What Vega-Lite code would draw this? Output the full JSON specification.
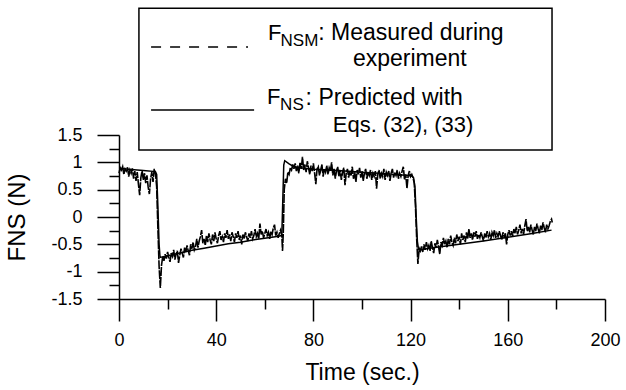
{
  "$schema": "https://vega.github.io/schema/vega-lite/v6.json",
  "width": 486,
  "height": 164,
  "autosize": "none",
  "padding": {"left": 119, "top": 135, "right": 21, "bottom": 91},
  "background": "white",
  "config": {
    "view": {"stroke": null},
    "font": "Liberation Sans",
    "axis": {
      "domainColor": "#000",
      "domainWidth": 1.5,
      "tickColor": "#000",
      "tickWidth": 1.5,
      "labelColor": "#000",
      "titleColor": "#000",
      "labelFont": "Liberation Sans",
      "titleFont": "Liberation Sans",
      "grid": false,
      "labelFlush": false,
      "labelOverlap": false
    }
  },
  "resolve": {"axis": {"x": "independent", "y": "independent"}},
  "datasets": {
    "measured": [
      {"t":0,"v":0.80},{"t":0.5,"v":0.90},{"t":1,"v":0.86},{"t":1.5,"v":0.92},{"t":2,"v":0.78},{"t":2.5,"v":0.88},{"t":3,"v":0.84},{"t":3.5,"v":0.91},{"t":4,"v":0.74},{"t":4.5,"v":0.86},
      {"t":5,"v":0.80},{"t":5.5,"v":0.89},{"t":6,"v":0.70},{"t":6.5,"v":0.84},{"t":7,"v":0.66},{"t":7.5,"v":0.82},{"t":8,"v":0.60},{"t":8.5,"v":0.40},{"t":9,"v":0.72},{"t":9.5,"v":0.85},
      {"t":10,"v":0.68},{"t":10.5,"v":0.80},{"t":11,"v":0.62},{"t":11.5,"v":0.76},{"t":12,"v":0.55},{"t":12.5,"v":0.42},{"t":13,"v":0.70},{"t":13.5,"v":0.82},{"t":14,"v":0.64},{"t":14.5,"v":0.88},
      {"t":15,"v":0.80},{"t":15.5,"v":0.55},{"t":16,"v":-0.20},{"t":16.5,"v":-0.90},{"t":17,"v":-1.30},{"t":17.5,"v":-0.88},
      {"t":18,"v":-0.72},{"t":18.5,"v":-0.80},{"t":19,"v":-0.68},{"t":19.5,"v":-0.76},{"t":20,"v":-0.64},{"t":20.5,"v":-0.74},{"t":21,"v":-0.82},{"t":21.5,"v":-0.66},{"t":22,"v":-0.72},{"t":22.5,"v":-0.60},
      {"t":23,"v":-0.78},{"t":23.5,"v":-0.68},{"t":24,"v":-0.62},{"t":24.5,"v":-0.84},{"t":25,"v":-0.70},{"t":25.5,"v":-0.58},{"t":26,"v":-0.66},{"t":26.5,"v":-0.74},{"t":27,"v":-0.56},{"t":27.5,"v":-0.64},
      {"t":28,"v":-0.52},{"t":28.5,"v":-0.62},{"t":29,"v":-0.70},{"t":29.5,"v":-0.50},{"t":30,"v":-0.58},{"t":30.5,"v":-0.46},{"t":31,"v":-0.60},{"t":31.5,"v":-0.54},{"t":32,"v":-0.40},{"t":32.5,"v":-0.56},
      {"t":33,"v":-0.44},{"t":33.5,"v":-0.36},{"t":34,"v":-0.24},{"t":34.5,"v":-0.48},{"t":35,"v":-0.40},{"t":35.5,"v":-0.52},{"t":36,"v":-0.34},{"t":36.5,"v":-0.46},{"t":37,"v":-0.30},{"t":37.5,"v":-0.42},
      {"t":38,"v":-0.50},{"t":38.5,"v":-0.32},{"t":39,"v":-0.44},{"t":39.5,"v":-0.28},{"t":40,"v":-0.40},{"t":40.5,"v":-0.48},{"t":41,"v":-0.34},{"t":41.5,"v":-0.26},{"t":42,"v":-0.42},{"t":42.5,"v":-0.36},
      {"t":43,"v":-0.46},{"t":43.5,"v":-0.30},{"t":44,"v":-0.38},{"t":44.5,"v":-0.24},{"t":45,"v":-0.40},{"t":45.5,"v":-0.32},{"t":46,"v":-0.44},{"t":46.5,"v":-0.28},{"t":47,"v":-0.36},{"t":47.5,"v":-0.46},
      {"t":48,"v":-0.30},{"t":48.5,"v":-0.38},{"t":49,"v":-0.26},{"t":49.5,"v":-0.42},{"t":50,"v":-0.34},{"t":50.5,"v":-0.50},{"t":51,"v":-0.32},{"t":51.5,"v":-0.40},{"t":52,"v":-0.28},{"t":52.5,"v":-0.36},
      {"t":53,"v":-0.44},{"t":53.5,"v":-0.30},{"t":54,"v":-0.38},{"t":54.5,"v":-0.26},{"t":55,"v":-0.40},{"t":55.5,"v":-0.34},{"t":56,"v":-0.22},{"t":56.5,"v":-0.36},{"t":57,"v":-0.30},{"t":57.5,"v":-0.40},
      {"t":58,"v":-0.12},{"t":58.5,"v":-0.32},{"t":59,"v":-0.26},{"t":59.5,"v":-0.38},{"t":60,"v":-0.30},{"t":60.5,"v":-0.22},{"t":61,"v":-0.34},{"t":61.5,"v":-0.28},{"t":62,"v":-0.40},{"t":62.5,"v":-0.26},
      {"t":63,"v":-0.32},{"t":63.5,"v":-0.20},{"t":64,"v":-0.14},{"t":64.5,"v":-0.34},{"t":65,"v":-0.28},{"t":65.5,"v":-0.38},{"t":66,"v":-0.30},{"t":66.5,"v":-0.24},{"t":67,"v":-0.34},{"t":67.3,"v":-0.62},
      {"t":67.6,"v":-0.30},{"t":68,"v":0.50},{"t":68.5,"v":0.70},{"t":69,"v":0.62},{"t":69.5,"v":0.82},{"t":70,"v":0.78},{"t":70.5,"v":0.90},{"t":71,"v":0.86},{"t":71.5,"v":0.96},{"t":72,"v":0.88},
      {"t":72.5,"v":0.98},{"t":73,"v":0.84},{"t":73.5,"v":0.94},{"t":74,"v":0.80},{"t":74.5,"v":1.00},{"t":75,"v":0.88},{"t":75.5,"v":1.10},{"t":76,"v":0.86},{"t":76.5,"v":0.96},{"t":77,"v":0.82},
      {"t":77.5,"v":1.02},{"t":78,"v":0.90},{"t":78.5,"v":0.78},{"t":79,"v":0.94},{"t":79.5,"v":0.84},{"t":80,"v":0.98},{"t":80.5,"v":0.80},{"t":81,"v":0.60},{"t":81.5,"v":0.88},{"t":82,"v":0.92},
      {"t":82.5,"v":0.76},{"t":83,"v":0.86},{"t":83.5,"v":0.96},{"t":84,"v":0.74},{"t":84.5,"v":0.88},{"t":85,"v":0.82},{"t":85.5,"v":0.94},{"t":86,"v":0.78},{"t":86.5,"v":0.90},{"t":87,"v":0.84},
      {"t":87.5,"v":1.00},{"t":88,"v":0.76},{"t":88.5,"v":0.88},{"t":89,"v":0.70},{"t":89.5,"v":0.84},{"t":90,"v":0.92},{"t":90.5,"v":0.74},{"t":91,"v":0.86},{"t":91.5,"v":0.68},{"t":92,"v":0.82},
      {"t":92.5,"v":0.90},{"t":93,"v":0.58},{"t":93.5,"v":0.80},{"t":94,"v":0.88},{"t":94.5,"v":0.72},{"t":95,"v":0.84},{"t":95.5,"v":0.76},{"t":96,"v":0.92},{"t":96.5,"v":0.70},{"t":97,"v":0.82},
      {"t":97.5,"v":0.64},{"t":98,"v":0.86},{"t":98.5,"v":0.78},{"t":99,"v":0.90},{"t":99.5,"v":0.72},{"t":100,"v":0.84},{"t":100.5,"v":0.66},{"t":101,"v":0.80},{"t":101.5,"v":0.88},{"t":102,"v":0.70},
      {"t":102.5,"v":0.82},{"t":103,"v":0.76},{"t":103.5,"v":0.86},{"t":104,"v":0.68},{"t":104.5,"v":0.80},{"t":105,"v":0.74},{"t":105.5,"v":0.84},{"t":106,"v":0.52},{"t":106.5,"v":0.78},{"t":107,"v":0.86},
      {"t":107.5,"v":0.70},{"t":108,"v":0.80},{"t":108.5,"v":0.74},{"t":109,"v":0.88},{"t":109.5,"v":0.68},{"t":110,"v":0.82},{"t":110.5,"v":0.76},{"t":111,"v":0.84},{"t":111.5,"v":0.66},{"t":112,"v":0.80},
      {"t":112.5,"v":0.88},{"t":113,"v":0.72},{"t":113.5,"v":0.82},{"t":114,"v":0.76},{"t":114.5,"v":0.86},{"t":115,"v":0.70},{"t":115.5,"v":0.80},{"t":116,"v":0.74},{"t":116.5,"v":0.84},{"t":117,"v":0.92},
      {"t":117.5,"v":0.68},{"t":118,"v":0.78},{"t":118.5,"v":0.52},{"t":119,"v":0.76},{"t":119.5,"v":0.84},{"t":120,"v":0.74},{"t":120.5,"v":0.78},{"t":121,"v":0.72},{"t":121.5,"v":0.62},{"t":122,"v":0.20},
      {"t":122.5,"v":-0.40},{"t":123,"v":-0.86},{"t":123.3,"v":-0.70},{"t":123.6,"v":-0.58},{"t":124,"v":-0.62},{"t":124.5,"v":-0.54},{"t":125,"v":-0.64},{"t":125.5,"v":-0.50},{"t":126,"v":-0.60},{"t":126.5,"v":-0.46},
      {"t":127,"v":-0.58},{"t":127.5,"v":-0.52},{"t":128,"v":-0.62},{"t":128.5,"v":-0.44},{"t":129,"v":-0.56},{"t":129.5,"v":-0.66},{"t":130,"v":-0.48},{"t":130.5,"v":-0.56},{"t":131,"v":-0.42},{"t":131.5,"v":-0.54},
      {"t":132,"v":-0.68},{"t":132.5,"v":-0.46},{"t":133,"v":-0.52},{"t":133.5,"v":-0.38},{"t":134,"v":-0.50},{"t":134.5,"v":-0.44},{"t":135,"v":-0.56},{"t":135.5,"v":-0.40},{"t":136,"v":-0.50},{"t":136.5,"v":-0.34},
      {"t":137,"v":-0.46},{"t":137.5,"v":-0.52},{"t":138,"v":-0.38},{"t":138.5,"v":-0.48},{"t":139,"v":-0.32},{"t":139.5,"v":-0.44},{"t":140,"v":-0.36},{"t":140.5,"v":-0.50},{"t":141,"v":-0.30},{"t":141.5,"v":-0.42},
      {"t":142,"v":-0.34},{"t":142.5,"v":-0.46},{"t":143,"v":-0.28},{"t":143.5,"v":-0.40},{"t":144,"v":-0.22},{"t":144.5,"v":-0.38},{"t":145,"v":-0.30},{"t":145.5,"v":-0.42},{"t":146,"v":-0.28},{"t":146.5,"v":-0.36},
      {"t":147,"v":-0.26},{"t":147.5,"v":-0.40},{"t":148,"v":-0.32},{"t":148.5,"v":-0.38},{"t":149,"v":-0.28},{"t":149.5,"v":-0.36},{"t":150,"v":-0.44},{"t":150.5,"v":-0.30},{"t":151,"v":-0.38},{"t":151.5,"v":-0.26},
      {"t":152,"v":-0.36},{"t":152.5,"v":-0.30},{"t":153,"v":-0.42},{"t":153.5,"v":-0.28},{"t":154,"v":-0.34},{"t":154.5,"v":-0.24},{"t":155,"v":-0.38},{"t":155.5,"v":-0.30},{"t":156,"v":-0.36},{"t":156.5,"v":-0.26},
      {"t":157,"v":-0.34},{"t":157.5,"v":-0.42},{"t":158,"v":-0.28},{"t":158.5,"v":-0.36},{"t":159,"v":-0.30},{"t":159.5,"v":-0.50},{"t":160,"v":-0.32},{"t":160.5,"v":-0.24},{"t":161,"v":-0.34},{"t":161.5,"v":-0.26},
      {"t":162,"v":-0.36},{"t":162.5,"v":-0.22},{"t":163,"v":-0.30},{"t":163.5,"v":-0.18},{"t":164,"v":-0.32},{"t":164.5,"v":-0.24},{"t":165,"v":-0.14},{"t":165.5,"v":-0.30},{"t":166,"v":-0.22},{"t":166.5,"v":-0.32},
      {"t":167,"v":-0.16},{"t":167.5,"v":-0.04},{"t":168,"v":-0.26},{"t":168.5,"v":-0.18},{"t":169,"v":-0.28},{"t":169.5,"v":-0.14},{"t":170,"v":-0.24},{"t":170.5,"v":-0.32},{"t":171,"v":-0.18},{"t":171.5,"v":-0.26},
      {"t":172,"v":-0.12},{"t":172.5,"v":-0.22},{"t":173,"v":-0.30},{"t":173.5,"v":-0.16},{"t":174,"v":-0.24},{"t":174.5,"v":-0.10},{"t":175,"v":-0.20},{"t":175.5,"v":-0.28},{"t":176,"v":-0.14},{"t":176.5,"v":-0.22},
      {"t":177,"v":-0.16},{"t":177.5,"v":-0.08},{"t":178,"v":-0.04},{"t":178.3,"v":-0.10}
    ],
    "predicted": [
      {"t":0,"v":0.89},{"t":5,"v":0.87},{"t":10,"v":0.85},{"t":15,"v":0.83},{"t":15.5,"v":0.78},{"t":16,"v":0.2},{"t":16.5,"v":-0.5},{"t":16.9,"v":-0.74},
      {"t":20,"v":-0.71},{"t":25,"v":-0.66},{"t":30,"v":-0.61},{"t":35,"v":-0.57},{"t":40,"v":-0.53},{"t":45,"v":-0.49},{"t":50,"v":-0.46},{"t":55,"v":-0.42},{"t":60,"v":-0.39},{"t":65,"v":-0.355},{"t":67,"v":-0.34},
      {"t":67.4,"v":0.3},{"t":67.8,"v":0.95},{"t":68.2,"v":1.03},{"t":70,"v":0.97},{"t":72,"v":0.92},{"t":76,"v":0.89},{"t":80,"v":0.875},{"t":90,"v":0.85},{"t":100,"v":0.82},{"t":110,"v":0.79},{"t":119,"v":0.76},
      {"t":120.5,"v":0.75},{"t":121.2,"v":0.72},{"t":121.8,"v":0.55},{"t":122.3,"v":0.0},{"t":122.8,"v":-0.45},{"t":123.3,"v":-0.60},{"t":124,"v":-0.60},{"t":130,"v":-0.56},{"t":140,"v":-0.50},{"t":150,"v":-0.44},
      {"t":160,"v":-0.37},{"t":170,"v":-0.30},{"t":178,"v":-0.24}
    ]
  },
  "layer": [
    {
      "data": {"name": "measured"},
      "mark": {"type": "line", "color": "#000", "strokeWidth": 1.6, "strokeDash": [9, 1], "clip": false},
      "encoding": {
        "x": {
          "field": "t", "type": "quantitative",
          "scale": {"domain": [0, 200], "nice": false, "zero": false},
          "axis": {
            "orient": "bottom",
            "values": [0, 40, 80, 120, 160, 200],
            "labelOverlap": false,
            "tickSize": 22,
            "labelFontSize": 18,
            "labelPadding": 10,
            "title": "Time (sec.)",
            "titleFontSize": 23,
            "titleFontWeight": "normal",
            "titlePadding": 12
          }
        },
        "y": {
          "field": "v", "type": "quantitative",
          "scale": {"domain": [-1.5, 1.5], "nice": false, "zero": false},
          "axis": {
            "orient": "left",
            "values": [-1.5, -1, -0.5, 0, 0.5, 1, 1.5],
            "labelExpr": "'' + datum.value",
            "labelOverlap": false,
            "tickSize": 22,
            "labelFontSize": 18,
            "labelPadding": 15,
            "title": "FNS (N)",
            "titleFontSize": 24,
            "titleFontWeight": "normal",
            "titlePadding": 21
          }
        }
      }
    },
    {
      "data": {"name": "predicted"},
      "mark": {"type": "line", "color": "#000", "strokeWidth": 1.5, "clip": false},
      "encoding": {
        "x": {
          "field": "t", "type": "quantitative",
          "axis": {"orient": "bottom", "values": [20, 60, 100, 140, 180], "tickSize": 10, "labels": false, "domain": false, "title": null}
        },
        "y": {
          "field": "v", "type": "quantitative",
          "axis": {"orient": "left", "values": [-1.25, -0.75, -0.25, 0.25, 0.75, 1.25], "tickSize": 10, "labels": false, "domain": false, "title": null}
        }
      }
    },
    {
      "data": {"values": [{}]},
      "mark": {"type": "rect", "fill": "white", "stroke": "#000", "strokeWidth": 1.5, "clip": false},
      "encoding": {
        "x": {"datum": 8.2, "type": "quantitative", "axis": null}, "x2": {"datum": 178.2},
        "y": {"datum": 3.82, "type": "quantitative", "axis": null}, "y2": {"datum": 1.225}
      }
    },
    {
      "data": {"values": [{}]},
      "mark": {"type": "rule", "color": "#000", "strokeWidth": 1.3, "strokeDash": [10, 9], "clip": false},
      "encoding": {"x": {"datum": 13.2, "type": "quantitative", "axis": null}, "x2": {"datum": 53.1}, "y": {"datum": 3.11, "type": "quantitative", "axis": null}}
    },
    {
      "data": {"values": [{}]},
      "mark": {"type": "rule", "color": "#000", "strokeWidth": 1.5, "clip": false},
      "encoding": {"x": {"datum": 13.2, "type": "quantitative", "axis": null}, "x2": {"datum": 55.6}, "y": {"datum": 1.957, "type": "quantitative", "axis": null}}
    },
    {
      "data": {"values": [{}]},
      "mark": {"type": "text", "text": "F", "font": "Liberation Sans", "fontSize": 22, "align": "left", "baseline": "alphabetic", "color": "#000", "clip": false},
      "encoding": {"x": {"datum": 61.3, "type": "quantitative", "axis": null}, "y": {"datum": 3.24, "type": "quantitative", "axis": null}}
    },
    {
      "data": {"values": [{}]},
      "mark": {"type": "text", "text": "NSM", "font": "Liberation Sans", "fontSize": 17, "align": "left", "baseline": "alphabetic", "color": "#000", "clip": false},
      "encoding": {"x": {"datum": 66.5, "type": "quantitative", "axis": null}, "y": {"datum": 3.128, "type": "quantitative", "axis": null}}
    },
    {
      "data": {"values": [{}]},
      "mark": {"type": "text", "text": ": Measured during", "font": "Liberation Sans", "fontSize": 23, "align": "left", "baseline": "alphabetic", "color": "#000", "clip": false},
      "encoding": {"x": {"datum": 82.0, "type": "quantitative", "axis": null}, "y": {"datum": 3.24, "type": "quantitative", "axis": null}}
    },
    {
      "data": {"values": [{}]},
      "mark": {"type": "text", "text": "experiment", "font": "Liberation Sans", "fontSize": 23, "align": "center", "baseline": "alphabetic", "color": "#000", "clip": false},
      "encoding": {"x": {"datum": 119.7, "type": "quantitative", "axis": null}, "y": {"datum": 2.76, "type": "quantitative", "axis": null}}
    },
    {
      "data": {"values": [{}]},
      "mark": {"type": "text", "text": "F", "font": "Liberation Sans", "fontSize": 22, "align": "left", "baseline": "alphabetic", "color": "#000", "clip": false},
      "encoding": {"x": {"datum": 60.9, "type": "quantitative", "axis": null}, "y": {"datum": 2.07, "type": "quantitative", "axis": null}}
    },
    {
      "data": {"values": [{}]},
      "mark": {"type": "text", "text": "NS", "font": "Liberation Sans", "fontSize": 17, "align": "left", "baseline": "alphabetic", "color": "#000", "clip": false},
      "encoding": {"x": {"datum": 66.3, "type": "quantitative", "axis": null}, "y": {"datum": 1.957, "type": "quantitative", "axis": null}}
    },
    {
      "data": {"values": [{}]},
      "mark": {"type": "text", "text": ": Predicted with", "font": "Liberation Sans", "fontSize": 23, "align": "left", "baseline": "alphabetic", "color": "#000", "clip": false},
      "encoding": {"x": {"datum": 76.8, "type": "quantitative", "axis": null}, "y": {"datum": 2.05, "type": "quantitative", "axis": null}}
    },
    {
      "data": {"values": [{}]},
      "mark": {"type": "text", "text": "Eqs. (32), (33)", "font": "Liberation Sans", "fontSize": 22, "align": "center", "baseline": "alphabetic", "color": "#000", "clip": false},
      "encoding": {"x": {"datum": 116.9, "type": "quantitative", "axis": null}, "y": {"datum": 1.555, "type": "quantitative", "axis": null}}
    }
  ]
}
